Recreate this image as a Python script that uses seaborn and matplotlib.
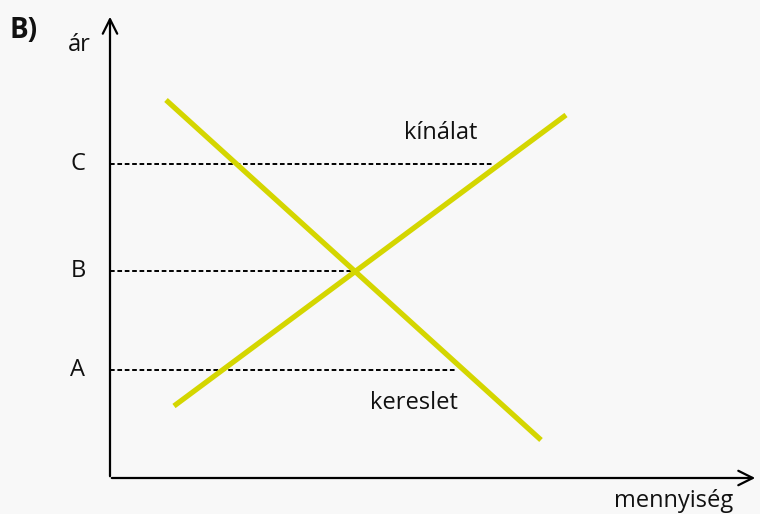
import matplotlib
matplotlib.use("Agg")
import matplotlib.pyplot as plt
import seaborn as sns
import pandas as pd

# data (arbitrary units: quantity, price)
demand_q = [1.12, 8.62]
demand_p = [7.56, 0.76]
supply_q = [1.28, 9.12]
supply_p = [1.44, 7.26]
price_labels = ["A", "B", "C"]
price_levels = [2.16, 4.14, 6.28]
dash_ends = [6.90, 4.84, 7.64]

sns.set_theme(style="white")
plt.rcParams['font.family'] = ['Open Sans', 'DejaVu Sans']

bg = "#f8f8f8"
yellow = "#d4d600"
txt = "#111111"
fig = plt.figure(figsize=(7.6, 5.14), dpi=100, facecolor=bg)
ax = fig.add_axes([0, 0, 1, 1], facecolor=bg)
ax.set_xlim(-2.2, 13.0)
ax.set_ylim(-0.72, 9.56)
ax.axis("off")

df = pd.concat([
    pd.DataFrame({"q": demand_q, "p": demand_p, "curve": "kereslet"}),
    pd.DataFrame({"q": supply_q, "p": supply_p, "curve": "kínálat"}),
])
sns.lineplot(data=df, x="q", y="p", units="curve", estimator=None, sort=False,
             color=yellow, lw=3.8, ax=ax, legend=False, solid_capstyle="butt")

for lvl, end, lab in zip(price_levels, dash_ends, price_labels):
    ax.plot([0, end], [lvl, lvl], color="black", lw=1.4, ls=(0, (2.4, 1.4)), zorder=1)
    ax.text(-0.64, lvl, lab, fontsize=17, ha="center", va="center", color=txt)

arrow = dict(arrowstyle="->", lw=1.6, color="black", mutation_scale=26)
ax.annotate("", xy=(12.96, 0), xytext=(-0.02, 0), arrowprops=arrow)
ax.annotate("", xy=(0, 9.28), xytext=(0, -0.02), arrowprops=arrow)

ax.text(-2.0, 8.96, "B)", fontsize=20, fontweight="bold", ha="left", va="center", color=txt)
ax.text(-0.62, 8.66, "ár", fontsize=17, ha="center", va="center", color=txt)
ax.text(6.62, 6.90, "kínálat", fontsize=17, ha="center", va="center", color=txt)
ax.text(6.08, 1.50, "kereslet", fontsize=17, ha="center", va="center", color=txt)
ax.text(11.28, -0.46, "mennyiség", fontsize=17, ha="center", va="center", color=txt)

fig.savefig("out.png", dpi=100, facecolor=bg)
